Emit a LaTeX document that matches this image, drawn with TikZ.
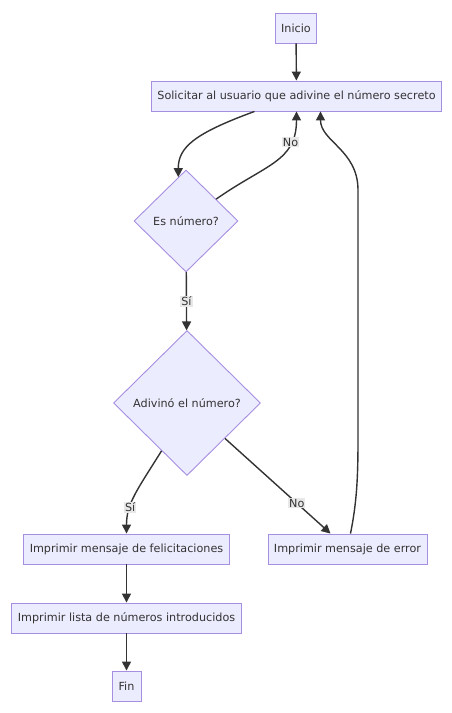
\documentclass[tikz,border=0pt]{standalone}
\usepackage{fontspec}
\setmainfont{DejaVu Sans}
\usetikzlibrary{arrows.meta, positioning, shapes.geometric, calc}
\definecolor{boxfill}{HTML}{ECECFF}
\definecolor{boxline}{HTML}{A68EE0}
\definecolor{edgecol}{HTML}{333333}
\definecolor{lblbg}{HTML}{E8E8E8}

\begin{document}
\begin{tikzpicture}[x=1pt, y=-1pt, >={Stealth[inset=0pt, length=9pt, width=9pt]},
    font=\fontsize{11.2}{13}\selectfont, text=edgecol,
    paso/.style={draw=boxline, fill=boxfill, line width=0.9pt, minimum height=30pt, inner xsep=6pt},
    decision/.style={diamond, draw=boxline, fill=boxfill, line width=0.9pt, inner sep=0pt},
    flecha/.style={->, draw=edgecol, line width=1.4pt},
    etiqueta/.style={fill=lblbg, inner sep=1pt}]
  \useasboundingbox (0,0) rectangle (452,713);

  % nodes
  \node[paso, minimum width=40pt] (inicio) at (296,28) {Inicio};
  \node[paso, minimum width=287pt] (solicitar) at (296.5,96) {Solicitar al usuario que adivine el número secreto};
  \node[decision, minimum width=104pt, minimum height=102pt] (esnum) at (186,221) {Es número?};
  \node[decision, minimum width=147pt, minimum height=145pt] (adivino) at (187,403) {Adivinó el número?};
  \node[paso, minimum width=205pt] (felic) at (126.5,549) {Imprimir mensaje de felicitaciones};
  \node[paso, minimum width=159pt] (error) at (347.5,549) {Imprimir mensaje de error};
  \node[paso, minimum width=227pt] (lista) at (126.5,618) {Imprimir lista de números introducidos};
  \node[paso, minimum width=29pt] (fin) at (126.5,686) {Fin};

  % connectors
  \draw[flecha] (inicio) -- (solicitar);
  \draw[flecha] ([xshift=-42pt]solicitar.south) .. controls +(-60,22) and +(0,-30) .. (esnum.100);
  \draw[flecha] (esnum.36) .. controls +(50,-35) and +(0,50) .. (solicitar.south)
    node[etiqueta, pos=0.74] (lblno1) {No};
  \draw[flecha] (esnum) -- node[etiqueta] (lblsi1) {Sí} (adivino);
  \draw[flecha] (adivino.-118) .. controls +(-25,40) and +(0,-30) .. (felic.north)
    node[etiqueta, pos=0.66] (lblsi2) {Sí};
  \draw[flecha] (adivino.-43) -- ([xshift=-17pt]error.north)
    node[etiqueta, pos=0.68] (lblno2) {No};
  \draw[flecha] ([xshift=3pt]error.north) .. controls +(6,-30) and +(0,40) .. (358,440)
    -- (358,190) .. controls +(0,-40) and +(0,30) .. ([xshift=24pt]solicitar.south);
  \draw[flecha] (felic) -- (lista);
  \draw[flecha] (lista) -- (fin);
\end{tikzpicture}
\end{document}
